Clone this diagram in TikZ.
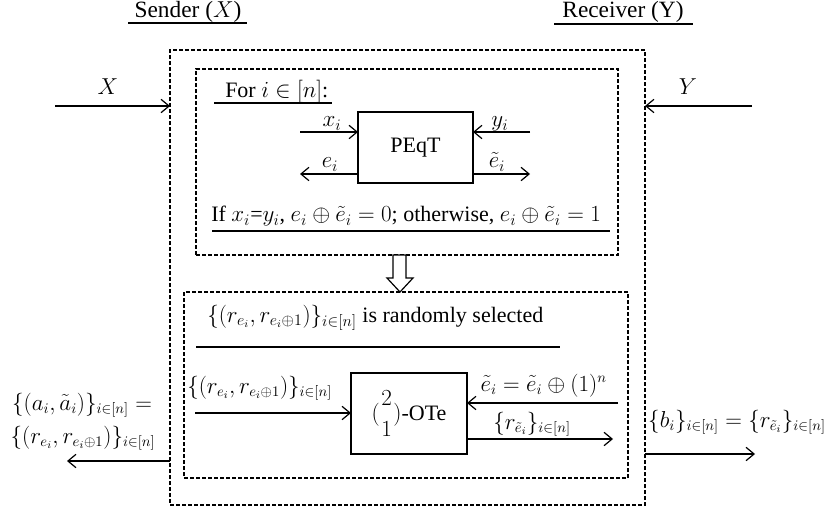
\documentclass[tikz,border=0pt]{standalone}
\usepackage{amsmath}
\usepackage{fontspec}
\setmainfont{Liberation Serif}
\usetikzlibrary{arrows.meta}
\begin{document}
\begin{tikzpicture}[x=0.75pt,y=-0.75pt,
  arr/.style={-{Straight Barb[length=6pt,width=10pt]}, line width=0.9pt},
  dbox/.style={draw, dash pattern=on 3pt off 1.5pt, line width=0.8pt, inner sep=0pt, outer sep=0pt},
  sbox/.style={draw, line width=0.9pt, inner sep=0pt, outer sep=0pt},
  txt/.style={font=\fontsize{16.5}{19}\selectfont, inner sep=0pt},
  mtxt/.style={font=\fontsize{16}{18}\selectfont, inner sep=0pt},
  ttl/.style={font=\fontsize{17.5}{21}\selectfont, inner sep=0pt},
  uline/.style={line width=0.9pt}]
\useasboundingbox (0,0) rectangle (826,510);

% boxes
\node[dbox, minimum width=356.25pt, minimum height=341.25pt] (outer) at (407.5,277.5) {};
\node[dbox, minimum width=316.5pt, minimum height=139.5pt] (box1) at (407,162) {};
\node[dbox, minimum width=333pt, minimum height=139.5pt] (box2) at (406,385) {};
\node[sbox, txt, minimum width=86.25pt, minimum height=53.25pt] (peqt) at (415.5,147.5) {PEqT};
\node[sbox, txt, minimum width=87pt, minimum height=60.75pt] (ote) at (409,413.5) {$(\genfrac{}{}{0pt}{0}{2}{1})$-OTe};

% titles
\node[ttl, anchor=base] (sender) at (188,18) {Sender ($X$)};
\coordinate (su1) at (128,23); \coordinate (su2) at (247,23);
\draw[uline] (su1) -- (su2);
\node[ttl, anchor=base] (receiver) at (623,18) {Receiver (Y)};
\coordinate (ru1) at (554,24); \coordinate (ru2) at (693,24);
\draw[uline] (ru1) -- (ru2);

% X and Y inputs
\coordinate (xs) at (55,106);
\draw[arr] (xs) -- (outer.west |- xs);
\node[txt, anchor=base] (xlab) at (108,95) {$X$};
\coordinate (ys) at (752,106);
\draw[arr] (ys) -- (outer.east |- ys);
\node[txt, anchor=base] (ylab) at (688,95) {$Y$};

% box 1 content
\node[txt, anchor=base west] (fori) at (225,98) {For $i\in[n]$:};
\coordinate (fu1) at (214,103); \coordinate (fu2) at (332,103);
\draw[uline] (fu1) -- (fu2);

\coordinate (xis) at (300,132);
\draw[arr] (xis) -- (peqt.west |- xis);
\node[txt, anchor=base] (xil) at (332,127) {$x_i$};
\coordinate (eie) at (300,174);
\draw[arr] (peqt.west |- eie) -- (eie);
\node[txt, anchor=base] (eil) at (330,168) {$e_i$};
\coordinate (yis) at (530,132);
\draw[arr] (yis) -- (peqt.east |- yis);
\node[txt, anchor=base] (yil) at (500,127) {$y_i$};
\coordinate (ete) at (530,174);
\draw[arr] (peqt.east |- ete) -- (ete);
\node[txt, anchor=base] (etl) at (497,168) {$\tilde{e}_i$};

\node[txt, anchor=base west] (ifline) at (211,222) {If $x_i$=$y_i$, $e_i\oplus\tilde{e}_i=0$; otherwise, $e_i\oplus\tilde{e}_i=1$};
\coordinate (iu1) at (212,231); \coordinate (iu2) at (610,231);
\draw[uline] (iu1) -- (iu2);

% hollow arrow between boxes
\draw[line width=0.9pt, fill=white] (393,255) -- (393,278) -- (387,278) -- (400,292) -- (413,278) -- (406,278) -- (406,255) -- cycle;

% box 2 content
\node[txt, anchor=base west] (rand) at (207,322) {$\{(r_{e_i},r_{e_i\oplus 1})\}_{i\in[n]}$ is randomly selected};
\coordinate (ru3) at (196,347); \coordinate (ru4) at (560,347);
\draw[uline] (ru3) -- (ru4);

\coordinate (ins) at (195,413);
\draw[arr] (ins) -- (ote.west |- ins);
\node[mtxt, anchor=base west] (inl) at (187,393) {$\{(r_{e_i},r_{e_i\oplus 1})\}_{i\in[n]}$};
\coordinate (ets) at (618,403);
\draw[arr] (ets) -- (ote.east |- ets);
\node[mtxt, anchor=base east] (etsl) at (607,391) {$\tilde{e}_i=\tilde{e}_i\oplus(1)^n$};
\coordinate (roe) at (613,439);
\draw[arr] (ote.east |- roe) -- (roe);
\node[mtxt, anchor=base west] (rol) at (493,429) {$\{r_{\tilde{e}_i}\}_{i\in[n]}$};

% outputs
\coordinate (lo) at (67,461);
\draw[arr] (outer.west |- lo) -- (lo);
\node[mtxt, anchor=base] (lol1) at (82,410) {$\{(a_i,\tilde{a}_i)\}_{i\in[n]}=$};
\node[mtxt, anchor=base] (lol2) at (83,443) {$\{(r_{e_i},r_{e_i\oplus 1})\}_{i\in[n]}$};
\coordinate (ro) at (755,454);
\draw[arr] (outer.east |- ro) -- (ro);
\node[mtxt, anchor=base] (rolab) at (737,427) {$\{b_i\}_{i\in[n]}=\{r_{\tilde{e}_i}\}_{i\in[n]}$};
\end{tikzpicture}
\end{document}
